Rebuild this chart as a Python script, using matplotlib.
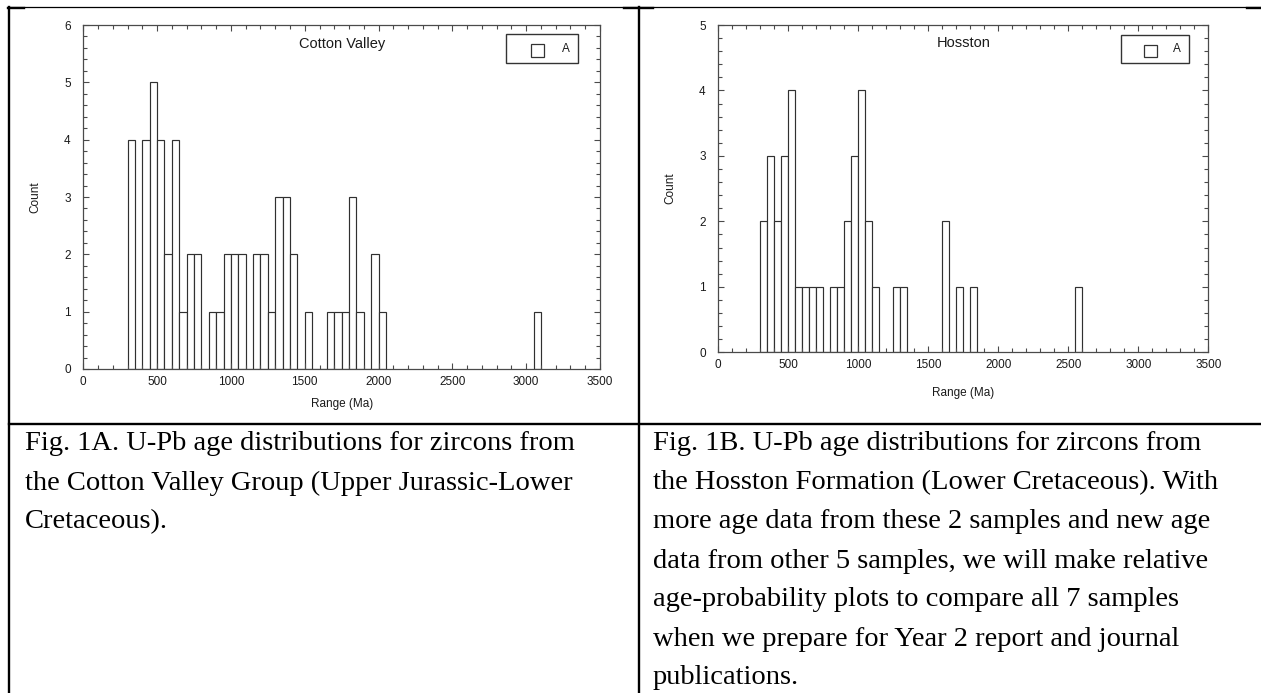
import matplotlib
matplotlib.use("Agg")
import matplotlib.pyplot as plt
from matplotlib.lines import Line2D
from matplotlib.patches import Rectangle
from matplotlib.ticker import MultipleLocator

# --- data (bin lower edge in Ma, count), 50 Ma bins
bin_width = 50
cv_bins = [300, 350, 400, 450, 500, 550, 600, 650, 700, 750, 800, 850, 900, 950,
           1000, 1050, 1100, 1150, 1200, 1250, 1300, 1350, 1400, 1450, 1500, 1550,
           1600, 1650, 1700, 1750, 1800, 1850, 1900, 1950, 2000, 3050]
cv_counts = [4, 0, 4, 5, 4, 2, 4, 1, 2, 2, 0, 1, 1, 2,
             2, 2, 0, 2, 2, 1, 3, 3, 2, 0, 1, 0,
             0, 1, 1, 1, 3, 1, 0, 2, 1, 1]

ho_bins = [300, 350, 400, 450, 500, 550, 600, 650, 700, 750, 800, 850, 900, 950,
           1000, 1050, 1100, 1250, 1300, 1600, 1700, 1800, 2550]
ho_counts = [2, 3, 2, 3, 4, 1, 1, 1, 1, 0, 1, 1, 2, 3,
             4, 2, 1, 1, 1, 2, 1, 1, 1]

x_max = 3500
titles = ["Cotton Valley", "Hosston"]
y_max = [6, 5]
legend_label = "A"
x_label = "Range (Ma)"
y_label = "Count"

caption_left = [
    "Fig. 1A. U-Pb age distributions for zircons from",
    "the Cotton Valley Group (Upper Jurassic-Lower",
    "Cretaceous).",
]
caption_right = [
    "Fig. 1B. U-Pb age distributions for zircons from",
    "the Hosston Formation (Lower Cretaceous). With",
    "more age data from these 2 samples and new age",
    "data from other 5 samples, we will make relative",
    "age-probability plots to compare all 7 samples",
    "when we prepare for Year 2 report and journal",
    "publications.",
]

W, H = 1261, 693
plt.rcParams['font.family'] = ['Liberation Sans', 'DejaVu Sans']
fig = plt.figure(figsize=(W / 100, H / 100), dpi=100)


def fx(x):
    return x / W


def fy(y):
    return 1 - y / H


edge = '#303030'
spine = '#4a4a4a'


def draw_hist(rect, bins, counts, ymax, title, xlab_y):
    ax = fig.add_axes(rect)
    ax.bar(bins, counts, width=bin_width, align='edge', facecolor='white',
           edgecolor=edge, linewidth=0.85)
    ax.set_xlim(0, x_max)
    ax.set_ylim(0, ymax)
    ax.xaxis.set_major_locator(MultipleLocator(500))
    ax.xaxis.set_minor_locator(MultipleLocator(100))
    ax.yaxis.set_major_locator(MultipleLocator(1))
    ax.yaxis.set_minor_locator(MultipleLocator(0.2))
    ax.tick_params(which='both', direction='in', top=True, right=True,
                   color=spine, width=0.8, labelsize=8.5, labelcolor='#1a1a1a')
    ax.tick_params(which='major', length=4.5)
    ax.tick_params(which='minor', length=3)
    ax.tick_params(axis='y', pad=9)
    ax.tick_params(axis='x', pad=5)
    for s in ax.spines.values():
        s.set_color(spine)
        s.set_linewidth(0.9)
    ax.set_xlabel(x_label, fontsize=8.5, color='#1a1a1a')
    ax.set_ylabel(y_label, fontsize=8.5, color='#1a1a1a')
    w_px = rect[2] * W
    h_px = rect[3] * H
    ax.yaxis.set_label_coords(-42 / w_px, 0.5)
    ax.xaxis.set_label_coords(0.5, -xlab_y / h_px)
    ax.text(0.5, 0.944, title, transform=ax.transAxes, ha='center',
            va='center', fontsize=10.5, color='#1a1a1a')
    return ax, w_px, h_px


def draw_legend(ax, w_px, h_px, box, square, text_x):
    # box / square given in pixels relative to axes top-right corner
    bx0, by0, bx1, by1 = box
    ax.add_patch(Rectangle((1 - bx0 / w_px, 1 - by1 / h_px),
                           (bx0 - bx1) / w_px, (by1 - by0) / h_px,
                           transform=ax.transAxes, facecolor='white',
                           edgecolor='#333333', linewidth=1.0, zorder=5))
    sx0, sy0, sx1, sy1 = square
    ax.add_patch(Rectangle((1 - sx0 / w_px, 1 - sy1 / h_px),
                           (sx0 - sx1) / w_px, (sy1 - sy0) / h_px,
                           transform=ax.transAxes, facecolor='white',
                           edgecolor='#333333', linewidth=0.9, zorder=6))
    ax.text(1 - text_x / w_px, 1 - ((by0 + by1) / 2) / h_px, legend_label,
            transform=ax.transAxes, ha='center', va='center', fontsize=8.5,
            color='#1a1a1a', zorder=7)


# left histogram: axes from x 83..600 px, y 25..369 px
rect_l = [fx(83.3), fy(369), (600 - 83.3) / W, (369 - 25) / H]
ax1, w1, h1 = draw_hist(rect_l, cv_bins, cv_counts, y_max[0], titles[0], 29)
draw_legend(ax1, w1, h1, (93.7, 9.3, 21.7, 38.3), (69, 19.3, 55.7, 31.7), 34)

# right histogram: axes from x 718..1208 px, y 25..352 px
rect_r = [fx(718.3), fy(352.3), (1208.3 - 718.3) / W, (352.3 - 25) / H]
ax2, w2, h2 = draw_hist(rect_r, ho_bins, ho_counts, y_max[1], titles[1], 35)
draw_legend(ax2, w2, h2, (87.3, 10, 19, 37.7), (64.3, 19.7, 51.6, 31.7), 31.3)

# table borders around the panels and captions
thick = 1.7
fig.add_artist(Line2D([fx(9), 1], [fy(7.2), fy(7.2)], color='black', lw=0.9))
for xa, xb in [(8, 24), (624, 653), (1247, 1261)]:
    fig.add_artist(Line2D([fx(xa), fx(xb)], [fy(7.8), fy(7.8)], color='black', lw=thick))
fig.add_artist(Line2D([fx(9), fx(9)], [fy(7), 0], color='black', lw=thick))
fig.add_artist(Line2D([fx(638.8), fx(638.8)], [fy(7), 0], color='black', lw=thick))
fig.add_artist(Line2D([fx(9), 1], [fy(423.8), fy(423.8)], color='black', lw=thick))

# captions
line_gap = 39
for i, line in enumerate(caption_left):
    fig.text(fx(25), fy(444 + i * line_gap), line, family='Liberation Serif',
             fontsize=20.5, va='center', ha='left')
for i, line in enumerate(caption_right):
    fig.text(fx(652.7), fy(444 + i * line_gap), line, family='Liberation Serif',
             fontsize=20.5, va='center', ha='left')

plt.savefig("out.png", dpi=100)
